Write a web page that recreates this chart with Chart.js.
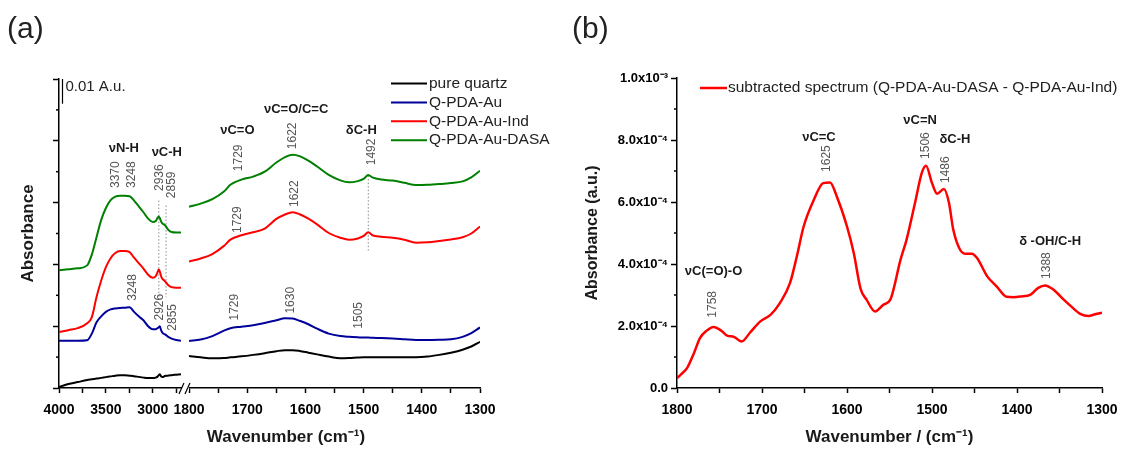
<!DOCTYPE html>
<html>
<head>
<meta charset="utf-8">
<script src="https://cdn.jsdelivr.net/npm/chart.js@4.4.0/dist/chart.umd.min.js"></script>
<style>
  html, body { margin: 0; padding: 0; background: #fff; }
  #wrap { position: relative; width: 1129px; height: 449px; overflow: hidden; }
  #chartA { position: absolute; left: 0; top: 0; width: 560px; height: 449px; }
  #chartB { position: absolute; left: 560px; top: 0; width: 569px; height: 449px; }
</style>
</head>
<body>
<div id="wrap">
  <canvas id="chartA" width="560" height="449"></canvas>
  <canvas id="chartB" width="569" height="449"></canvas>
</div>
<script>
const FONT = "'Liberation Sans', Arial, sans-serif";

// ---------- panel (a) : offset spectra, broken wavenumber axis ----------
const wnHigh = [4000, 3900, 3800, 3700, 3650, 3600, 3550, 3500, 3450, 3400, 3350, 3300, 3248, 3200, 3150, 3100, 3050, 3000, 2970, 2950, 2936, 2926, 2910, 2895, 2875, 2859, 2840, 2800, 2750, 2700];
const quartzHigh = [0.0004, 0.0016, 0.0024, 0.0032, 0.0035, 0.0038, 0.0041, 0.0044, 0.0047, 0.0050, 0.0052, 0.0052, 0.0050, 0.0048, 0.0045, 0.0042, 0.0040, 0.0040, 0.0042, 0.0046, 0.0052, 0.0056, 0.0046, 0.0044, 0.0048, 0.0050, 0.0050, 0.0052, 0.0054, 0.0056];
const pdaAuHigh = [0.0191, 0.0191, 0.0191, 0.0193, 0.0220, 0.0266, 0.0290, 0.0308, 0.0318, 0.0322, 0.0324, 0.0325, 0.0327, 0.0308, 0.0290, 0.0274, 0.0250, 0.0238, 0.0238, 0.0242, 0.0246, 0.0250, 0.0232, 0.0222, 0.0218, 0.0214, 0.0208, 0.0200, 0.0194, 0.0191];
const indHigh = [0.0226, 0.0234, 0.0242, 0.0262, 0.0287, 0.0368, 0.0435, 0.0489, 0.0525, 0.0546, 0.0554, 0.0554, 0.0550, 0.0527, 0.0505, 0.0483, 0.0458, 0.0446, 0.0452, 0.0468, 0.0479, 0.0472, 0.0450, 0.0440, 0.0434, 0.0427, 0.0418, 0.0408, 0.0406, 0.0406];
const dasaHigh = [0.0476, 0.0480, 0.0484, 0.0496, 0.0540, 0.0610, 0.0680, 0.0728, 0.0760, 0.0774, 0.0778, 0.0778, 0.0776, 0.0758, 0.0735, 0.0711, 0.0685, 0.0672, 0.0675, 0.0688, 0.0694, 0.0688, 0.0672, 0.0665, 0.0660, 0.0653, 0.0642, 0.0631, 0.0629, 0.0629];

const wnLow = [1800, 1780, 1760, 1740, 1729, 1710, 1690, 1670, 1650, 1635, 1622, 1610, 1595, 1580, 1560, 1540, 1525, 1510, 1500, 1492, 1485, 1470, 1450, 1430, 1410, 1390, 1370, 1350, 1330, 1315, 1300];
const quartzLow = [0.0129, 0.0124, 0.0120, 0.0121, 0.0124, 0.0128, 0.0134, 0.0141, 0.0149, 0.0153, 0.0153, 0.0150, 0.0143, 0.0136, 0.0127, 0.0120, 0.0121, 0.0123, 0.0124, 0.0124, 0.0124, 0.0124, 0.0124, 0.0124, 0.0124, 0.0127, 0.0134, 0.0143, 0.0155, 0.0168, 0.0187];
const pdaAuLow = [0.0190, 0.0196, 0.0210, 0.0232, 0.0242, 0.0248, 0.0254, 0.0263, 0.0274, 0.0282, 0.0281, 0.0272, 0.0258, 0.0240, 0.0220, 0.0210, 0.0207, 0.0205, 0.0204, 0.0204, 0.0203, 0.0202, 0.0200, 0.0197, 0.0194, 0.0194, 0.0195, 0.0197, 0.0207, 0.0222, 0.0245];
const indLow = [0.0512, 0.0524, 0.0542, 0.0575, 0.0600, 0.0618, 0.0630, 0.0645, 0.0684, 0.0702, 0.0711, 0.0703, 0.0685, 0.0662, 0.0627, 0.0608, 0.0600, 0.0605, 0.0615, 0.0630, 0.0618, 0.0612, 0.0608, 0.0600, 0.0588, 0.0590, 0.0595, 0.0601, 0.0610, 0.0625, 0.0653];
const dasaLow = [0.0733, 0.0746, 0.0764, 0.0795, 0.0822, 0.0843, 0.0855, 0.0875, 0.0912, 0.0934, 0.0944, 0.0938, 0.0920, 0.0896, 0.0862, 0.0840, 0.0832, 0.0837, 0.0846, 0.0862, 0.0852, 0.0843, 0.0839, 0.0830, 0.0821, 0.0822, 0.0825, 0.0829, 0.0836, 0.0852, 0.0879];

const seriesNames = ['pure quartz', 'Q-PDA-Au', 'Q-PDA-Au-Ind', 'Q-PDA-Au-DASA'];
const seriesColors = ['#000000', '#00009a', '#ff0000', '#008000'];

// dotted guide lines: wavenumber, top and bottom absorbance
const guideWn = [2936, 2859, 1492];
const guideTop = [0.0758, 0.0738, 0.0859];
const guideBottom = [0.0363, 0.0367, 0.0556];

const xTicksHigh = [4000, 3750, 3500, 3250, 3000, 2750];
const xTicksLow = [1800, 1750, 1700, 1650, 1600, 1550, 1500, 1450, 1400, 1350, 1300];
const yTicksA = [0, 0.025, 0.05, 0.075, 0.1, 0.125];
const yMinorA = [0.0125, 0.0375, 0.0625, 0.0875, 0.1125];

// band labels of panel (a): text, wavenumber, absorbance
const bandsA = [
  ['νN-H', 3309, 0.0971], ['νC-H', 2851, 0.0955], ['νC=O', 1717, 0.1044],
  ['νC=O/C=C', 1616, 0.1125], ['δC-H', 1504, 0.1040]
];
const peaksA = [
  ['3370', 3394, 0.0863], ['3248', 3229, 0.0863], ['2936', 2926, 0.0851], ['2859', 2798, 0.0822],
  ['1729', 1714, 0.0931], ['1622', 1622, 0.1020], ['1492', 1487, 0.0955],
  ['1729', 1716, 0.0681], ['1622', 1618, 0.0786],
  ['3248', 3213, 0.0407], ['2926', 2926, 0.0327], ['2855', 2787, 0.0286],
  ['1729', 1722, 0.0327], ['1630', 1625, 0.0355], ['1505', 1508, 0.0294]
];

// ---------- panel (b) : subtracted spectrum (values in 1e-4 a.u.) ----------
const wnB = [1800, 1795, 1788, 1780, 1773, 1765, 1757, 1748, 1741, 1733, 1724, 1714, 1702, 1690, 1679, 1667, 1659, 1651, 1639, 1628, 1620, 1612, 1600, 1592, 1584, 1577, 1567, 1557, 1549, 1537, 1530, 1520, 1512, 1507, 1500, 1494, 1486, 1480, 1475, 1467, 1460, 1453, 1447, 1435, 1424, 1412, 1404, 1396, 1384, 1375, 1367, 1357, 1345, 1337, 1325, 1316, 1308, 1300];
const subtracted = [0.32, 0.45, 0.65, 1.13, 1.61, 1.85, 1.97, 1.85, 1.69, 1.65, 1.50, 1.79, 2.15, 2.36, 2.74, 3.39, 4.25, 5.21, 6.07, 6.61, 6.63, 6.18, 5.21, 4.35, 3.20, 2.85, 2.47, 2.69, 2.85, 4.14, 4.78, 5.97, 6.94, 7.17, 6.61, 6.27, 6.42, 5.97, 5.11, 4.46, 4.33, 4.33, 4.19, 3.60, 3.28, 2.94, 2.93, 2.95, 3.01, 3.23, 3.31, 3.17, 2.85, 2.65, 2.38, 2.32, 2.38, 2.43];

const xTicksB = [1800, 1750, 1700, 1650, 1600, 1550, 1500, 1450, 1400, 1350, 1300];
const yTicksB = [0, 2, 4, 6, 8, 10];
const yMinorB = [1, 3, 5, 7, 9];
const yTickLabelsB = ['0.0', '2.0x10⁻⁴', '4.0x10⁻⁴', '6.0x10⁻⁴', '8.0x10⁻⁴', '1.0x10⁻³'];

const bandsB = [
  ['νC(=O)-O', 1757, 3.76], ['νC=C', 1633, 8.07], ['νC=N', 1514, 8.62],
  ['δC-H', 1473, 8.01], ['δ -OH/C-H', 1361, 4.73]
];
const peaksB = [
  ['1758', 1758, 2.70], ['1625', 1624, 7.40], ['1506', 1507, 7.82], ['1486', 1484, 7.04], ['1388', 1365, 3.95]
];

// ---------- helpers ----------
function pts(xs, ys) {
  return xs.map((x, i) => ({ x: x, y: ys[i] }));
}

function boldText(ctx, text, x, y, size) {
  ctx.save();
  ctx.font = 'bold ' + size + 'px ' + FONT;
  ctx.fillStyle = '#1a1a1a';
  ctx.textAlign = 'center';
  ctx.textBaseline = 'middle';
  ctx.fillText(text, x, y);
  ctx.restore();
}

function upText(ctx, text, x, y) {
  ctx.save();
  ctx.translate(x, y);
  ctx.rotate(-Math.PI / 2);
  ctx.font = '12px ' + FONT;
  ctx.fillStyle = '#555';
  ctx.textAlign = 'center';
  ctx.textBaseline = 'middle';
  ctx.fillText(text, 0, 0);
  ctx.restore();
}

// short minor ticks on the left axis
function minorTicks(chart, values) {
  const ctx = chart.ctx, y = chart.scales.y, left = chart.chartArea.left;
  ctx.save();
  ctx.strokeStyle = '#000';
  ctx.lineWidth = 1.5;
  values.forEach(v => {
    const py = y.getPixelForValue(v);
    ctx.beginPath();
    ctx.moveTo(left - 3, py);
    ctx.lineTo(left, py);
    ctx.stroke();
  });
  ctx.restore();
}

function axisTicks(values, labelEvery) {
  return {
    autoSkip: false, maxRotation: 0, padding: 9, color: '#000',
    font: { family: FONT, size: 14, weight: 'bold' },
    callback: v => (v % labelEvery === 0 ? String(v) : '')
  };
}

const gridOpts = { drawOnChartArea: false, tickLength: 5, tickColor: '#000', tickWidth: 1.5 };
const yGridOpts = { drawOnChartArea: false, tickLength: 6, tickColor: '#000', tickWidth: 1.5 };
const borderOpts = { color: '#000', width: 1.5 };

// ---------- panel (a) chart ----------
const highSets = [quartzHigh, pdaAuHigh, indHigh, dasaHigh];
const lowSets = [quartzLow, pdaAuLow, indLow, dasaLow];
const datasetsA = [];
seriesNames.forEach((name, i) => {
  const common = { label: name, borderColor: seriesColors[i], borderWidth: 2, pointRadius: 0, cubicInterpolationMode: 'monotone', fill: false };
  datasetsA.push(Object.assign({ data: pts(wnHigh, highSets[i]), xAxisID: 'xHigh' }, common));
  datasetsA.push(Object.assign({ data: pts(wnLow, lowSets[i]), xAxisID: 'xLow' }, common));
});
guideWn.forEach((wn, i) => {
  datasetsA.push({
    label: 'guide', data: [{ x: wn, y: guideTop[i] }, { x: wn, y: guideBottom[i] }],
    xAxisID: wn > 2000 ? 'xHigh' : 'xLow', borderColor: '#8a8a8a', borderWidth: 1,
    borderDash: [1.5, 2], pointRadius: 0, tension: 0
  });
});

const decorA = {
  id: 'decorA',
  afterDraw(chart) {
    const ctx = chart.ctx;
    const xh = chart.scales.xHigh, xl = chart.scales.xLow, y = chart.scales.y;
    const xp = wn => (wn > 2000 ? xh.getPixelForValue(wn) : xl.getPixelForValue(wn));
    const bottom = chart.chartArea.bottom;

    minorTicks(chart, yMinorA);

    // axis break
    ctx.save();
    ctx.fillStyle = '#fff';
    ctx.fillRect(xh.getPixelForValue(2700) + 1, bottom - 3, 7, 6);
    ctx.strokeStyle = '#000';
    ctx.lineWidth = 1.2;
    const bx = xh.getPixelForValue(2700);
    [[bx - 2, bx + 3], [bx + 4, bx + 9]].forEach(([a, b]) => {
      ctx.beginPath();
      ctx.moveTo(a, bottom + 6);
      ctx.lineTo(b, bottom - 5);
      ctx.stroke();
    });

    // scale bar 0.01 A.u.
    const sx = chart.chartArea.left + 3.5;
    ctx.lineWidth = 1.2;
    ctx.beginPath();
    ctx.moveTo(sx, y.getPixelForValue(0.125));
    ctx.lineTo(sx, y.getPixelForValue(0.115));
    ctx.stroke();
    ctx.font = '15px ' + FONT;
    ctx.fillStyle = '#222';
    ctx.textBaseline = 'middle';
    ctx.fillText('0.01 A.u.', sx + 3, y.getPixelForValue(0.1218));
    ctx.restore();

    bandsA.forEach(([t, wn, v]) => boldText(ctx, t, xp(wn), y.getPixelForValue(v), 13));
    peaksA.forEach(([t, wn, v]) => upText(ctx, t, xp(wn), y.getPixelForValue(v)));

    // legend
    ctx.save();
    ctx.font = '15.5px ' + FONT;
    ctx.textBaseline = 'middle';
    seriesNames.forEach((name, i) => {
      const ly = 83.5 + i * 18.9;
      ctx.strokeStyle = seriesColors[i];
      ctx.lineWidth = 2;
      ctx.beginPath();
      ctx.moveTo(391, ly);
      ctx.lineTo(427, ly);
      ctx.stroke();
      ctx.fillStyle = '#222';
      ctx.fillText(name, 429, ly);
    });
    ctx.restore();

    // x title and panel letter
    boldText(ctx, 'Wavenumber (cm⁻¹)', 286, 437, 17);
    ctx.save();
    ctx.font = '30px ' + FONT;
    ctx.fillStyle = '#222';
    ctx.textBaseline = 'middle';
    ctx.fillText('(a)', 7, 30);
    ctx.restore();
  }
};

new Chart(document.getElementById('chartA'), {
  type: 'line',
  data: { datasets: datasetsA },
  options: {
    responsive: false,
    animation: false,
    layout: { padding: { top: 79, right: 80, left: 0, bottom: 0 } },
    plugins: { legend: { display: false }, tooltip: { enabled: false } },
    scales: {
      xHigh: {
        type: 'linear', position: 'bottom', stack: 'wn', stackWeight: 126,
        min: 2657, max: 4000, reverse: true,
        afterBuildTicks: s => { s.ticks = xTicksHigh.map(v => ({ value: v })); },
        afterFit: s => { s.height = 61; },
        ticks: axisTicks(xTicksHigh, 500),
        grid: gridOpts, border: borderOpts
      },
      xLow: {
        type: 'linear', position: 'bottom', stack: 'wn', stackWeight: 295,
        min: 1300, max: 1807, reverse: true,
        afterBuildTicks: s => { s.ticks = xTicksLow.map(v => ({ value: v })); },
        afterFit: s => { s.height = 61; },
        ticks: axisTicks(xTicksLow, 100),
        grid: gridOpts, border: borderOpts
      },
      y: {
        type: 'linear', position: 'left', min: 0, max: 0.125,
        afterBuildTicks: s => { s.ticks = yTicksA.map(v => ({ value: v })); },
        afterFit: s => { s.width = 59; },
        ticks: { callback: () => '' },
        grid: yGridOpts, border: borderOpts,
        title: { display: true, text: 'Absorbance', color: '#1a1a1a', font: { family: FONT, size: 17, weight: 'bold' }, padding: { top: 18, bottom: 0 } }
      }
    }
  },
  plugins: [decorA]
});

// ---------- panel (b) chart ----------
const decorB = {
  id: 'decorB',
  afterDraw(chart) {
    const ctx = chart.ctx;
    const x = chart.scales.x, y = chart.scales.y;
    minorTicks(chart, yMinorB);
    bandsB.forEach(([t, wn, v]) => boldText(ctx, t, x.getPixelForValue(wn), y.getPixelForValue(v), 13));
    peaksB.forEach(([t, wn, v]) => upText(ctx, t, x.getPixelForValue(wn), y.getPixelForValue(v)));

    const ds = chart.data.datasets[0];
    ctx.save();
    ctx.strokeStyle = ds.borderColor;
    ctx.lineWidth = 2.5;
    ctx.beginPath();
    ctx.moveTo(140, 88);
    ctx.lineTo(167, 88);
    ctx.stroke();
    ctx.font = '15.5px ' + FONT;
    ctx.fillStyle = '#222';
    ctx.textBaseline = 'middle';
    ctx.fillText(ds.label, 168, 88);
    ctx.font = '30px ' + FONT;
    ctx.fillText('(b)', 12, 30);
    ctx.restore();
  }
};

new Chart(document.getElementById('chartB'), {
  type: 'line',
  data: {
    datasets: [{
      label: 'subtracted spectrum (Q-PDA-Au-DASA - Q-PDA-Au-Ind)',
      data: pts(wnB, subtracted),
      borderColor: '#ff0000', borderWidth: 2.5, pointRadius: 0,
      cubicInterpolationMode: 'monotone', fill: false
    }]
  },
  options: {
    responsive: false,
    animation: false,
    layout: { padding: { top: 78, right: 27, left: 0, bottom: 0 } },
    plugins: { legend: { display: false }, tooltip: { enabled: false } },
    scales: {
      x: {
        type: 'linear', position: 'bottom', min: 1300, max: 1800, reverse: true,
        afterBuildTicks: s => { s.ticks = xTicksB.map(v => ({ value: v })); },
        afterFit: s => { s.height = 61; },
        ticks: axisTicks(xTicksB, 100),
        grid: gridOpts, border: borderOpts,
        title: { display: true, text: 'Wavenumber / (cm⁻¹)', color: '#1a1a1a', font: { family: FONT, size: 17, weight: 'bold' }, padding: { top: 0, bottom: 1 } }
      },
      y: {
        type: 'linear', position: 'left', min: 0, max: 10,
        afterBuildTicks: s => { s.ticks = yTicksB.map(v => ({ value: v })); },
        afterFit: s => { s.width = 117; },
        ticks: {
          autoSkip: false, padding: 3, color: '#000',
          font: { family: FONT, size: 13, weight: 'bold' },
          callback: v => yTickLabelsB[yTicksB.indexOf(v)]
        },
        grid: yGridOpts, border: borderOpts,
        title: { display: true, text: 'Absorbance (a.u.)', color: '#1a1a1a', font: { family: FONT, size: 16, weight: 'bold' }, padding: { top: 23, bottom: 0 } }
      }
    }
  },
  plugins: [decorB]
});
</script>
</body>
</html>
